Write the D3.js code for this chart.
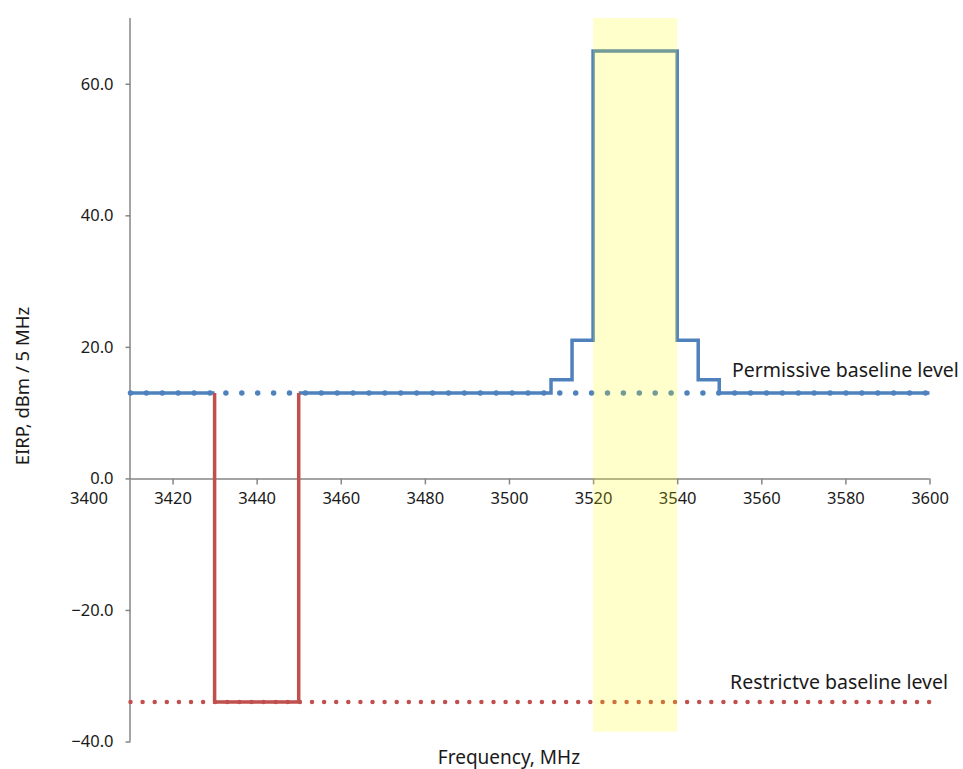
<!DOCTYPE html>
<html>
<head>
<meta charset="utf-8">
<script src="https://cdn.jsdelivr.net/npm/d3@7"></script>
<style>
  body { margin: 0; background: #fff; }
  svg { display: block; }
</style>
</head>
<body>
<script>
// permissive mask (step-after breakpoints, null = gap)
var permFreq = [3410, 3430, 3430, 3450, 3510, 3515, 3520, 3540, 3545, 3550, 3600];
var permEirp = [13, 13, null, 13, 15, 21, 65, 21, 15, 13, 13];

// restrictive notch
var restFreq = [3430, 3430, 3450, 3450];
var restEirp = [13, -34, -34, 13];

// baseline levels
var baseFreq = [3410, 3600];
var permissiveBase = 13;
var restrictiveBase = -34;

// highlighted block
var blockFreq = [3520, 3540];
var blockEirp = [-38.5, 70];

var xTicks = [3400, 3420, 3440, 3460, 3480, 3500, 3520, 3540, 3560, 3580, 3600];
var yTicks = [-40, -20, 0, 20, 40, 60];

var width = 963, height = 769;
var font = "'Noto Sans', 'Open Sans', sans-serif";

var svg = d3.select("body").append("svg")
  .attr("width", width)
  .attr("height", height)
  .attr("font-family", font);

var x = d3.scaleLinear().domain([3410, 3600]).range([130.5, 929.5]);
var y = d3.scaleLinear().domain([-40, 70]).range([741.5, 18]);

// axes
var yAxis = svg.append("g")
  .attr("transform", "translate(" + x(3410) + ",0)")
  .call(d3.axisLeft(y).tickValues(yTicks).tickSize(5).tickPadding(12)
    .tickFormat(d3.format(".1f")));

var xAxis = svg.append("g")
  .attr("transform", "translate(0," + y(0) + ")")
  .call(d3.axisBottom(x).tickValues(xTicks).tickSize(6).tickPadding(8)
    .tickFormat(d3.format("d")));

xAxis.selectAll(".tick").filter(function(d) { return d < 3410; })
  .select("line").remove();

[yAxis, xAxis].forEach(function(a) {
  a.selectAll("path, line").attr("stroke", "#868686").attr("stroke-width", 1.5);
  a.selectAll("text").attr("font-size", 16.5).attr("fill", "#1a1a1a").attr("font-family", font);
});
yAxis.select(".domain").attr("d", "M-0.5," + y(-40) + "V" + y(70));
xAxis.select(".domain").attr("d", "M" + x(3410) + ",0.5H" + x(3600));

// dotted baselines
var line = d3.line()
  .x(function(d) { return x(d[0]); })
  .y(function(d) { return y(d[1]); });

svg.append("path")
  .attr("d", line(baseFreq.map(function(f) { return [f, permissiveBase]; })))
  .attr("fill", "none")
  .attr("stroke", "#4F81BD")
  .attr("stroke-width", 5.5)
  .attr("stroke-linecap", "round")
  .attr("stroke-dasharray", "0,15.9");

svg.append("path")
  .attr("d", line(baseFreq.map(function(f) { return [f, restrictiveBase]; })))
  .attr("fill", "none")
  .attr("stroke", "#C0504D")
  .attr("stroke-width", 4.5)
  .attr("stroke-linecap", "round")
  .attr("stroke-dasharray", "0,12.1");

// permissive mask line
var stepLine = d3.line()
  .defined(function(d) { return d[1] !== null; })
  .curve(d3.curveStepAfter)
  .x(function(d) { return x(d[0]); })
  .y(function(d) { return y(d[1]); });

svg.append("path")
  .attr("d", stepLine(permFreq.map(function(f, i) { return [f, permEirp[i]]; })))
  .attr("fill", "none")
  .attr("stroke", "#4F81BD")
  .attr("stroke-width", 3.5);

// restrictive notch
svg.append("path")
  .attr("d", line(restFreq.map(function(f, i) { return [f, restEirp[i]]; })))
  .attr("fill", "none")
  .attr("stroke", "#C0504D")
  .attr("stroke-width", 3.5);

// yellow block overlay
svg.append("rect")
  .attr("x", x(blockFreq[0]))
  .attr("y", y(blockEirp[1]))
  .attr("width", x(blockFreq[1]) - x(blockFreq[0]))
  .attr("height", y(blockEirp[0]) - y(blockEirp[1]))
  .attr("fill", "#FFFF00")
  .attr("opacity", 0.2);

// labels
svg.append("text")
  .attr("x", 732).attr("y", 377)
  .attr("font-size", 19.5).attr("fill", "#1a1a1a")
  .text("Permissive baseline level");

svg.append("text")
  .attr("x", 730).attr("y", 689)
  .attr("font-size", 19.5).attr("fill", "#1a1a1a")
  .text("Restrictve baseline level");

svg.append("text")
  .attr("transform", "translate(29,386) rotate(-90)")
  .attr("text-anchor", "middle")
  .attr("font-size", 18.5).attr("fill", "#1a1a1a")
  .text("EIRP, dBm / 5 MHz");

svg.append("text")
  .attr("x", 509).attr("y", 764)
  .attr("text-anchor", "middle")
  .attr("font-size", 19).attr("fill", "#1a1a1a")
  .text("Frequency, MHz");
</script>
</body>
</html>
